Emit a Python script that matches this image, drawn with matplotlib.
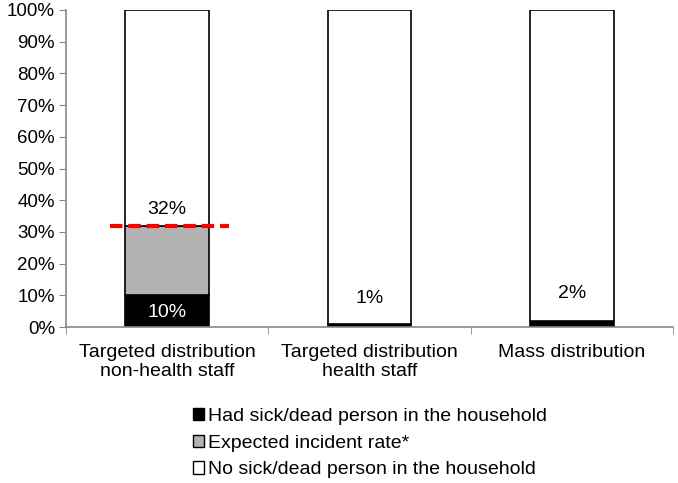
import matplotlib
matplotlib.use("Agg")
import matplotlib.pyplot as plt
from matplotlib.patches import Patch
import numpy as np

plt.rcParams['font.family'] = ['Liberation Sans', 'DejaVu Sans']

categories = ["Targeted distribution\nnon-health staff", "Targeted distribution\nhealth staff", "Mass distribution"]
had_sick = [10, 1, 2]
expected = [22, 0, 0]
no_sick = [68, 99, 98]
labels = ["10%", "1%", "2%"]
expected_rate = 32
series_names = ["Had sick/dead person in the household", "Expected incident rate*", "No sick/dead person in the household"]

fig = plt.figure(figsize=(6.78, 4.83), dpi=100)
ax = fig.add_axes([66/678, 1-327/483, (673-66)/678, (327-10)/483])

x = np.arange(len(categories))
w = 0.415
kw = dict(width=w, edgecolor='black', linewidth=1.2)
ax.bar(x, had_sick, color='black', **kw)
ax.bar(x, expected, bottom=had_sick, color='#b3b3b3', **kw)
ax.bar(x, no_sick, bottom=np.array(had_sick)+np.array(expected), color='white', **kw)

ax.set_ylim(0, 100)
ax.set_xlim(-0.5, 2.5)
ax.set_yticks(range(0, 101, 10))
ax.set_yticklabels([f"{v}%" for v in range(0, 101, 10)], fontsize=13.5)
ax.set_xticks(x)
ax.set_xticklabels(categories, fontsize=14, linespacing=1.15)
ax.tick_params(axis='x', length=0, pad=12)
ax.set_xticks([-0.5, 0.5, 1.5, 2.5], minor=True)
ax.tick_params(axis='x', which='minor', length=5, color='#888888')
ax.tick_params(axis='y', length=5, color='#888888', labelsize=13.5, pad=3)
for s in ['top', 'right']:
    ax.spines[s].set_visible(False)
for s in ['left', 'bottom']:
    ax.spines[s].set_color('#888888')
    ax.spines[s].set_linewidth(1.2)

# red dashed expected line
ax.plot([-0.285, 0.305], [expected_rate, expected_rate], color='red', linestyle=(0, (3, 1.4)), linewidth=3, zorder=5)

ax.text(0, 4.5, labels[0], color='white', ha='center', va='center', fontsize=14)
ax.text(0, 37, "32%", color='black', ha='center', va='center', fontsize=14)
ax.text(1, 9, labels[1], color='black', ha='center', va='center', fontsize=14)
ax.text(2, 10.5, labels[2], color='black', ha='center', va='center', fontsize=14)

handles = [Patch(facecolor='black', edgecolor='black'),
           Patch(facecolor='#b3b3b3', edgecolor='black'),
           Patch(facecolor='white', edgecolor='black')]
fig.legend(handles, series_names, loc='upper left', bbox_to_anchor=(185/678, 1-400/483),
           frameon=False, fontsize=14, handlelength=0.6, handleheight=0.6, handletextpad=0.2,
           labelspacing=0.5, borderaxespad=0)

fig.savefig("out.png", dpi=100)
